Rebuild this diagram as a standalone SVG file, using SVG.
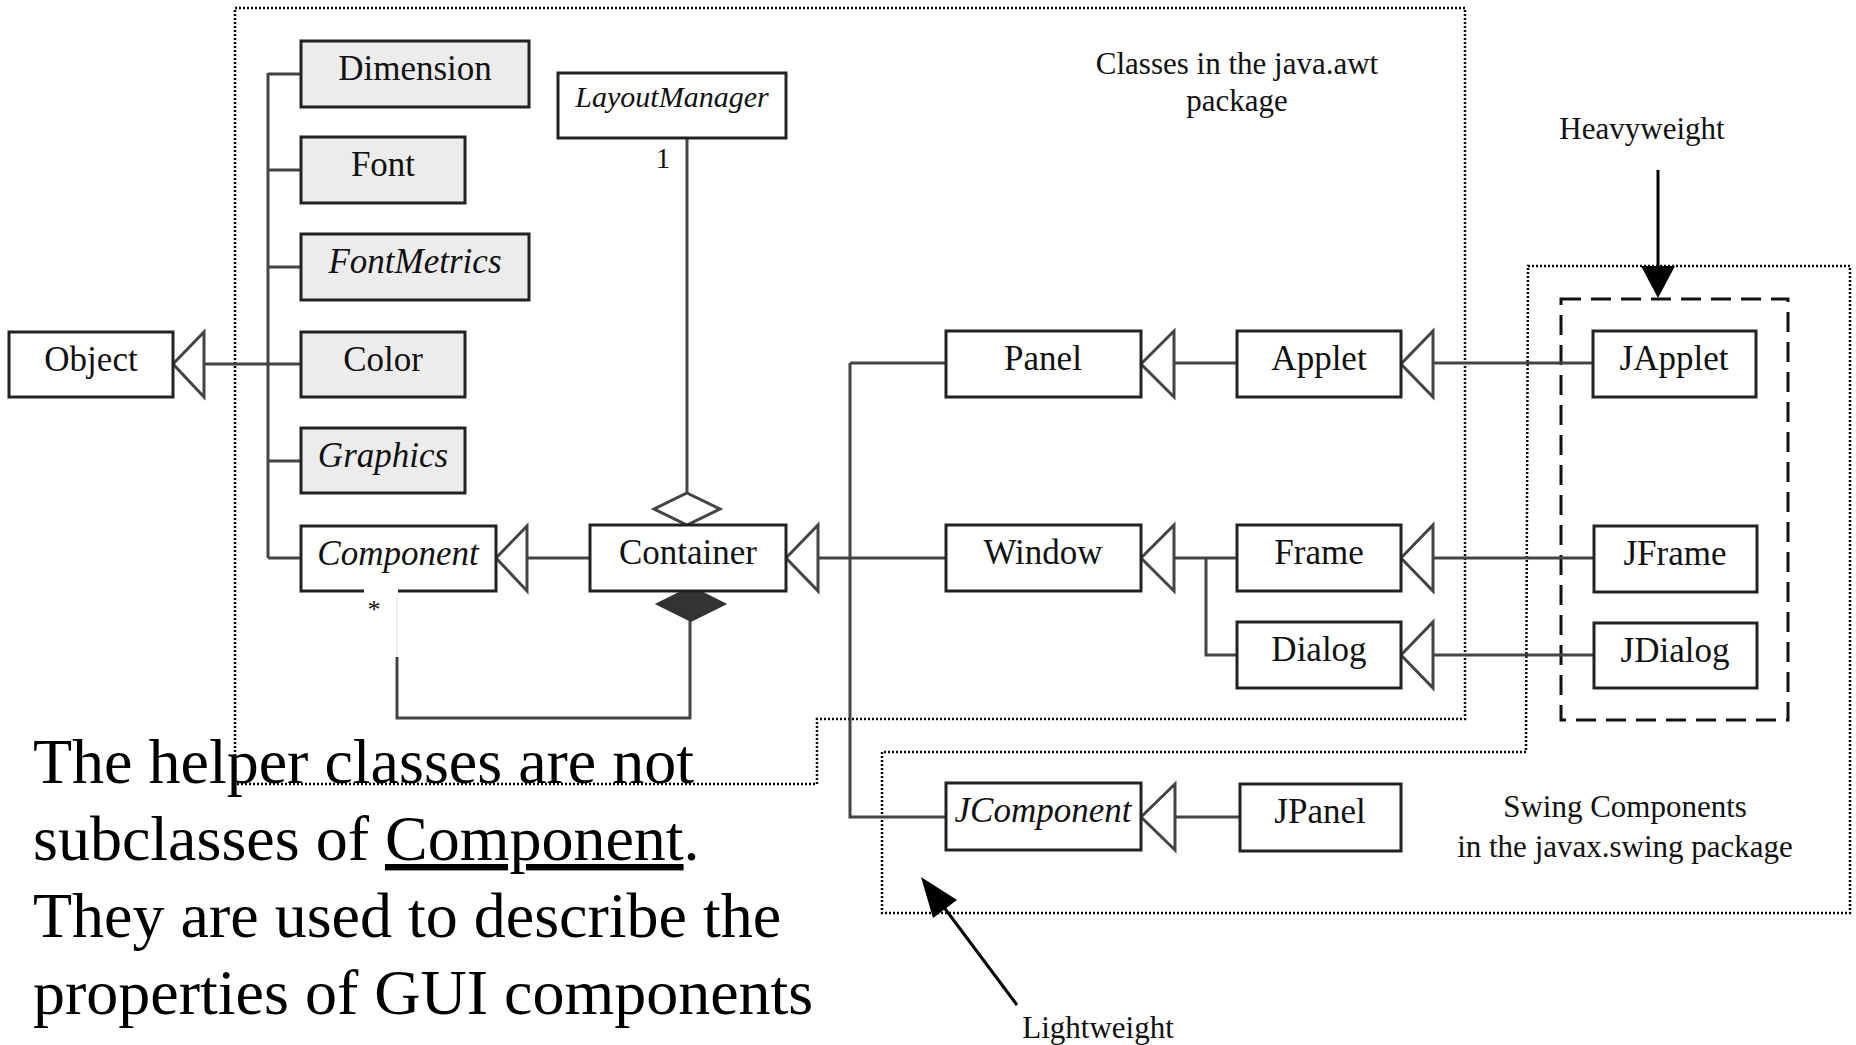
<svg xmlns="http://www.w3.org/2000/svg" width="1856" height="1045" viewBox="0 0 1856 1045">
  <style>
    .box { fill: #ffffff; stroke: #222222; stroke-width: 3; }
    .helper { fill: #ececec; stroke: #222222; stroke-width: 3; }
    .lbl { font-family: "Liberation Serif", "Times New Roman", serif; font-size: 35px; fill: #111111; text-anchor: middle; }
    .it { font-style: italic; }
    .edge { fill: none; stroke: #444444; stroke-width: 3; }
    .tri { fill: #ffffff; stroke: #444444; stroke-width: 3; stroke-linejoin: miter; }
    .pkg { fill: none; stroke: #000000; stroke-width: 2.5; stroke-dasharray: 2 2; }
    .note { font-family: "Liberation Serif", "Times New Roman", serif; font-size: 31px; fill: #111111; text-anchor: middle; }
    .big { font-family: "Liberation Serif", "Times New Roman", serif; font-size: 64px; fill: #000000; }
  </style>
  <rect width="1856" height="1045" fill="#ffffff"/>

  <!-- package outlines -->
  <g id="packages">
    <path class="pkg" d="M235,8 H1465 V719 H817 V784 H235 Z"/>
    <path class="pkg" d="M1528,266 H1850 V913 H882 V752 H1526 Z"/>
    <rect x="1561" y="299" width="227" height="421" fill="none" stroke="#111111" stroke-width="3" stroke-dasharray="20 10"/>
  </g>

  <!-- connectors -->
  <g id="connectors">
    <!-- helper classes hang off Object -->
    <path class="edge" d="M268,73 V558"/>
    <path class="edge" d="M268,74 H301 M268,170 H301 M268,267 H301 M204,364 H301 M268,461 H301 M268,558 H301"/>
    <polygon class="tri" points="173,364 204,332 204,397"/>
    <!-- Container extends Component -->
    <path class="edge" d="M527,558 H590"/>
    <polygon class="tri" points="496,558 527,526 527,591"/>
    <!-- LayoutManager aggregation -->
    <path class="edge" d="M687,138 V493"/>
    <polygon points="687,493 720,509 687,525 654,509" fill="#ffffff" stroke="#444444" stroke-width="3"/>
    <text x="663" y="168" style="font-family:'Liberation Serif',serif;font-size:29px;fill:#111" text-anchor="middle">1</text>
    <!-- Container composition of Components -->
    <polygon points="691,587 725,604 691,621 657,604" fill="#333333" stroke="#333333" stroke-width="2"/>
    <path class="edge" d="M690,621 V718 H397 V657"/>
    <path d="M397,657 V592" stroke="#eeeeee" stroke-width="2"/>
    <text x="374" y="618" style="font-family:'Liberation Serif',serif;font-size:26px;fill:#111" text-anchor="middle">*</text>
    <!-- subclasses of Container -->
    <path class="edge" d="M818,558 H946 M850,363 H946 M850,363 V817 H946"/>
    <polygon class="tri" points="786,558 818,525 818,591"/>
    <!-- Panel / Applet -->
    <path class="edge" d="M1174,363 H1237"/>
    <polygon class="tri" points="1141,364 1174,331 1174,397"/>
    <!-- Window / Frame / Dialog -->
    <path class="edge" d="M1174,558 H1237 M1206,558 V655 H1237"/>
    <polygon class="tri" points="1141,558 1174,525 1174,591"/>
    <!-- Swing heavyweights -->
    <path class="edge" d="M1433,363 H1593 M1433,558 H1594 M1433,655 H1594"/>
    <polygon class="tri" points="1401,364 1433,331 1433,397"/>
    <polygon class="tri" points="1401,558 1433,525 1433,591"/>
    <polygon class="tri" points="1401,655 1433,622 1433,688"/>
    <!-- JPanel extends JComponent -->
    <path class="edge" d="M1175,817 H1240"/>
    <polygon class="tri" points="1141,817 1175,784 1175,850"/>
  </g>

  <!-- nodes -->
  <g id="node-object"><rect class="box" x="9" y="332" width="164" height="65"/><text class="lbl" x="91" y="371">Object</text></g>
  <g id="node-dimension"><rect class="helper" x="301" y="41" width="228" height="66"/><text class="lbl" x="415" y="80">Dimension</text></g>
  <g id="node-font"><rect class="helper" x="301" y="137" width="164" height="66"/><text class="lbl" x="383" y="176">Font</text></g>
  <g id="node-fontmetrics"><rect class="helper" x="301" y="234" width="228" height="66"/><text class="lbl it" x="415" y="273">FontMetrics</text></g>
  <g id="node-color"><rect class="helper" x="301" y="332" width="164" height="65"/><text class="lbl" x="383" y="371">Color</text></g>
  <g id="node-graphics"><rect class="helper" x="301" y="428" width="164" height="65"/><text class="lbl it" x="383" y="467">Graphics</text></g>
  <g id="node-component"><rect class="box" x="301" y="526" width="195" height="65"/><rect x="364" y="588" width="34" height="6" fill="#ffffff"/><text class="lbl it" x="398" y="565">Component</text></g>
  <g id="node-layoutmanager"><rect class="box" x="558" y="73" width="228" height="65"/><text class="lbl it" x="672" y="107" style="font-size:30px">LayoutManager</text></g>
  <g id="node-container"><rect class="box" x="590" y="525" width="196" height="66"/><text class="lbl" x="688" y="564">Container</text></g>
  <g id="node-panel"><rect class="box" x="946" y="331" width="195" height="66"/><text class="lbl" x="1043" y="370">Panel</text></g>
  <g id="node-applet"><rect class="box" x="1237" y="331" width="164" height="66"/><text class="lbl" x="1319" y="370">Applet</text></g>
  <g id="node-window"><rect class="box" x="946" y="525" width="195" height="66"/><text class="lbl" x="1043" y="564">Window</text></g>
  <g id="node-frame"><rect class="box" x="1237" y="525" width="164" height="66"/><text class="lbl" x="1319" y="564">Frame</text></g>
  <g id="node-dialog"><rect class="box" x="1237" y="622" width="164" height="66"/><text class="lbl" x="1319" y="661">Dialog</text></g>
  <g id="node-japplet"><rect class="box" x="1593" y="331" width="163" height="66"/><text class="lbl" x="1674" y="370">JApplet</text></g>
  <g id="node-jframe"><rect class="box" x="1594" y="526" width="163" height="66"/><text class="lbl" x="1675" y="565">JFrame</text></g>
  <g id="node-jdialog"><rect class="box" x="1594" y="623" width="163" height="65"/><text class="lbl" x="1675" y="662">JDialog</text></g>
  <g id="node-jcomponent"><rect class="box" x="946" y="783" width="195" height="67"/><text class="lbl it" x="1043" y="822">JComponent</text></g>
  <g id="node-jpanel"><rect class="box" x="1240" y="784" width="161" height="67"/><text class="lbl" x="1320" y="823">JPanel</text></g>

  <!-- package captions and weight markers -->
  <g id="captions">
    <text class="note" x="1237" y="74">Classes in the java.awt</text>
    <text class="note" x="1237" y="111">package</text>
    <text class="note" x="1642" y="139">Heavyweight</text>
    <text class="note" x="1625" y="817">Swing Components</text>
    <text class="note" x="1625" y="857">in the javax.swing package</text>
    <text class="note" x="1098" y="1038">Lightweight</text>
    <path d="M1658,170 V268" stroke="#000000" stroke-width="3"/>
    <polygon points="1641,266 1675,266 1658,298" fill="#000000"/>
    <path d="M1017,1005 L940,902" stroke="#000000" stroke-width="3"/>
    <polygon points="921,877 957,900 933,918" fill="#000000"/>
  </g>

  <!-- explanatory note -->
  <g id="helper-note">
    <text class="big" x="33" y="783">The helper classes are not</text>
    <text class="big" x="33" y="860">subclasses of <tspan text-decoration="underline">Component</tspan>.</text>
    <text class="big" x="33" y="937">They are used to describe the</text>
    <text class="big" x="33" y="1014">properties of GUI components</text>
  </g>
</svg>
